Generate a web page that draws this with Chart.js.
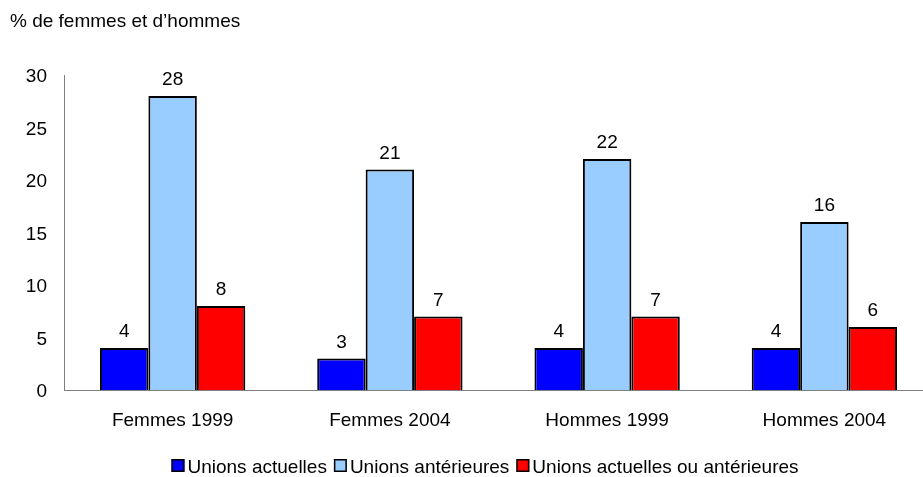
<!DOCTYPE html>
<html>
<head>
<meta charset="utf-8">
<script src="https://cdn.jsdelivr.net/npm/chart.js@4/dist/chart.umd.min.js"></script>
<style>
html,body{margin:0;padding:0;background:#fff;overflow:hidden;}
#wrap{width:933px;height:477px;}
</style>
</head>
<body>
<div id="wrap"><canvas id="c" width="933" height="477"></canvas></div>
<script>
const categories = ["Femmes 1999", "Femmes 2004", "Hommes 1999", "Hommes 2004"];
const seriesNames = ["Unions actuelles", "Unions antérieures", "Unions actuelles ou antérieures"];
const unionsActuelles = [4, 3, 4, 4];
const unionsAnterieures = [28, 21, 22, 16];
const unionsActuellesOuAnterieures = [8, 7, 7, 6];
const yTicks = [0, 5, 10, 15, 20, 25, 30];
const yTitle = "% de femmes et d\u2019hommes";

const FONT = "'Liberation Sans', Arial, sans-serif";
const FS = 19;

const titlePlugin = {
  id: 'topTitle',
  afterDraw(chart) {
    const ctx = chart.ctx;
    ctx.save();
    ctx.font = FS + "px " + FONT;
    ctx.fillStyle = "#000";
    ctx.textAlign = "left";
    ctx.textBaseline = "alphabetic";
    ctx.fillText(yTitle, 10, 27);
    ctx.restore();
  }
};

const labelPlugin = {
  id: 'barLabels',
  afterDatasetsDraw(chart) {
    const ctx = chart.ctx;
    ctx.save();
    ctx.font = FS + "px " + FONT;
    ctx.fillStyle = "#000";
    ctx.textAlign = "center";
    ctx.textBaseline = "alphabetic";
    chart.data.datasets.forEach((ds, i) => {
      const meta = chart.getDatasetMeta(i);
      meta.data.forEach((bar, j) => {
        ctx.fillText(String(ds.data[j]), bar.x, bar.y - 11);
      });
    });
    ctx.restore();
  }
};

const legendPlugin = {
  id: 'customLegend',
  afterDraw(chart) {
    const ctx = chart.ctx;
    ctx.save();
    ctx.font = FS + "px " + FONT;
    ctx.textBaseline = "alphabetic";
    ctx.textAlign = "left";
    const box = 13, gapText = 3, gapItem = 7;
    const items = chart.data.datasets.map(ds => ({ text: ds.label, color: ds.backgroundColor }));
    let total = 0;
    items.forEach((it, i) => {
      it.w = ctx.measureText(it.text).width;
      total += box + gapText + it.w + (i < items.length - 1 ? gapItem : 0);
    });
    let x = 485 - total / 2;
    const yBox = 459, yText = 473;
    items.forEach(it => {
      ctx.fillStyle = it.color;
      ctx.fillRect(x, yBox, box, box);
      ctx.strokeStyle = '#000';
      ctx.lineWidth = 1.5;
      ctx.strokeRect(x + 0.75, yBox + 0.75, box - 1.5, box - 1.5);
      ctx.fillStyle = '#000';
      ctx.fillText(it.text, x + box + gapText, yText);
      x += box + gapText + it.w + gapItem;
    });
    ctx.restore();
  }
};

new Chart(document.getElementById('c'), {
  type: 'bar',
  data: {
    labels: categories,
    datasets: [
      { label: seriesNames[0], data: unionsActuelles, backgroundColor: '#0000FF', borderColor: '#000', borderWidth: 2 },
      { label: seriesNames[1], data: unionsAnterieures, backgroundColor: '#99CCFF', borderColor: '#000', borderWidth: 2 },
      { label: seriesNames[2], data: unionsActuellesOuAnterieures, backgroundColor: '#FF0000', borderColor: '#000', borderWidth: 2 }
    ]
  },
  options: {
    responsive: false,
    animation: false,
    devicePixelRatio: 1,
    layout: { padding: { top: 75, left: 0, right: 0, bottom: 0 } },
    datasets: { bar: { barPercentage: 1.0, categoryPercentage: 0.669 } },
    scales: {
      x: {
        grid: { display: false, drawTicks: false },
        border: { display: true, color: '#808080', width: 1 },
        ticks: { color: '#000', font: { family: FONT, size: FS }, padding: 19, maxRotation: 0 },
        afterFit(scale) { scale.height = 87; }
      },
      y: {
        min: 0, max: 30,
        afterBuildTicks(scale) { scale.ticks = yTicks.map(v => ({ value: v })); },
        grid: { display: false, drawTicks: false },
        border: { display: true, color: '#808080', width: 1 },
        ticks: { color: '#000', font: { family: FONT, size: FS }, padding: 17, labelOffset: 2 },
        afterFit(scale) { scale.width = 64; }
      }
    },
    plugins: {
      legend: { display: false },
      tooltip: { enabled: false },
      title: { display: false }
    }
  },
  plugins: [titlePlugin, labelPlugin, legendPlugin]
});
</script>
</body>
</html>
